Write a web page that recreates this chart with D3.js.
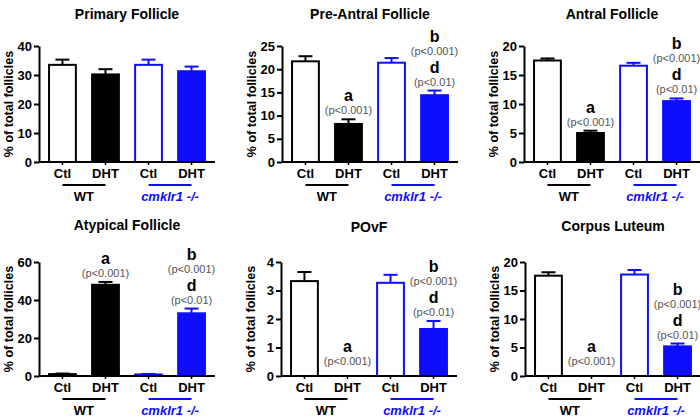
<!DOCTYPE html>
<html>
<head>
<meta charset="utf-8">
<script src="https://cdn.jsdelivr.net/npm/d3@7/dist/d3.min.js"></script>
<style>
  html, body { margin: 0; padding: 0; background: #fff; }
  svg { display: block; }
</style>
</head>
<body>
<svg id="chart" width="700" height="420"></svg>
<script>
// ---------- DATA ----------
const groups = ["WT Ctl", "WT DHT", "KO Ctl", "KO DHT"];
const groupLabels = ["Ctl", "DHT", "Ctl", "DHT"];
const genotypeLabels = ["WT", "cmklr1 -/-"];
const titles = ["Primary Follicle", "Pre-Antral Follicle", "Antral Follicle",
                "Atypical Follicle", "POvF", "Corpus Luteum"];
const yMax = [40, 25, 20, 60, 4, 20];
const yTicks = [
  [0, 10, 20, 30, 40],
  [0, 5, 10, 15, 20, 25],
  [0, 5, 10, 15, 20],
  [0, 20, 40, 60],
  [0, 1, 2, 3, 4],
  [0, 5, 10, 15, 20]
];
// means per panel (WT Ctl, WT DHT, KO Ctl, KO DHT)
const primaryMean   = [33.5, 30.2, 33.5, 31.3];
const primarySem    = [1.8, 1.8, 1.8, 1.6];
const preAntralMean = [21.7, 8.2, 21.4, 14.4];
const preAntralSem  = [1.1, 1.0, 1.0, 1.0];
const antralMean    = [17.5, 5.0, 16.6, 10.5];
const antralSem     = [0.35, 0.4, 0.5, 0.45];
const atypicalMean  = [1.0, 48.0, 0.8, 33.0];
const atypicalSem   = [0.3, 1.5, 0.3, 2.5];
const povfMean      = [3.33, 0, 3.27, 1.65];
const povfSem       = [0.32, 0, 0.28, 0.28];
const clMean        = [17.6, 0, 17.8, 5.2];
const clSem         = [0.6, 0, 0.8, 0.5];
const means = [primaryMean, preAntralMean, antralMean, atypicalMean, povfMean, clMean];
const sems  = [primarySem, preAntralSem, antralSem, atypicalSem, povfSem, clSem];
// significance annotations: [barIndex, stacked list of [letter, p-text] from top to bottom]
const annotations = [
  [],
  [[1, [["a", "(p<0.001)"]]], [3, [["b", "(p<0.001)"], ["d", "(p<0.01)"]]]],
  [[1, [["a", "(p<0.001)"]]], [3, [["b", "(p<0.001)"], ["d", "(p<0.01)"]]]],
  [[1, [["a", "(p<0.001)"]]], [3, [["b", "(p<0.001)"], ["d", "(p<0.01)"]]]],
  [[1, [["a", "(p<0.001)"]]], [3, [["b", "(p<0.001)"], ["d", "(p<0.01)"]]]],
  [[1, [["a", "(p<0.001)"]]], [3, [["b", "(p<0.001)"], ["d", "(p<0.01)"]]]]
];

// ---------- LAYOUT ----------
const BLACK = "#000";
const BLUE = "#0d0dff";
const barColors = [BLACK, BLACK, BLUE, BLUE];
const barFill = ["#fff", BLACK, "#fff", BLUE];
const panelX = [39, 282, 524, 39, 281, 525];
const rowTop = [46, 46, 46, 262, 262, 262];
const rowBottom = [162, 162, 162, 376, 376, 376];
const titleY = [19, 19, 19, 230, 232, 231];
const plotW = 176;
const FONT = "'Liberation Sans', Arial, Helvetica, sans-serif";

const svg = d3.select("#chart");

titles.forEach((title, i) => {
  const g = svg.append("g").attr("transform", `translate(${panelX[i]},0)`);
  const x = d3.scaleBand().domain(groups).range([0, plotW])
    .paddingInner(0.33).paddingOuter(0.21);
  const y = d3.scaleLinear().domain([0, yMax[i]]).range([rowBottom[i], rowTop[i]]);

  // title
  g.append("text").attr("x", plotW / 2).attr("y", titleY[i])
    .attr("text-anchor", "middle").attr("font-family", FONT)
    .attr("font-weight", "bold").attr("font-size", 14).text(title);

  // y axis
  const yAxis = g.append("g").call(d3.axisLeft(y).tickValues(yTicks[i])
    .tickFormat(d3.format("d")).tickSize(5).tickPadding(2).tickSizeOuter(0));
  yAxis.select(".domain").attr("stroke-width", 2);
  yAxis.selectAll(".tick line").attr("stroke-width", 2);
  yAxis.selectAll(".tick text").attr("font-family", FONT).attr("font-weight", "bold")
    .attr("font-size", 13).attr("fill", "#000");

  // y label
  g.append("text")
    .attr("transform", `translate(-30,${(rowTop[i] + rowBottom[i]) / 2}) rotate(-90)`)
    .attr("text-anchor", "middle").attr("dy", "0.35em").attr("font-family", FONT)
    .attr("font-weight", "bold").attr("font-size", 12.5).text("% of total follicles");

  // bars
  const data = groups.map((k, j) => ({ k, j, m: means[i][j], s: sems[i][j] }));
  g.selectAll("rect.bar").data(data.filter(d => d.m > 0)).join("rect")
    .attr("class", "bar")
    .attr("x", d => x(d.k) + 1)
    .attr("width", x.bandwidth() - 2)
    .attr("y", d => y(d.m))
    .attr("height", d => y(0) - y(d.m))
    .attr("fill", d => barFill[d.j])
    .attr("stroke", d => barColors[d.j])
    .attr("stroke-width", 2);

  // error bars (upper only)
  const eb = data.filter(d => d.s > 0);
  g.selectAll("line.err").data(eb).join("line")
    .attr("x1", d => x(d.k) + x.bandwidth() / 2).attr("x2", d => x(d.k) + x.bandwidth() / 2)
    .attr("y1", d => y(d.m)).attr("y2", d => y(d.m + d.s))
    .attr("stroke", d => barColors[d.j]).attr("stroke-width", 2);
  g.selectAll("line.cap").data(eb).join("line")
    .attr("x1", d => x(d.k) + x.bandwidth() / 2 - 7).attr("x2", d => x(d.k) + x.bandwidth() / 2 + 7)
    .attr("y1", d => y(d.m + d.s)).attr("y2", d => y(d.m + d.s))
    .attr("stroke", d => barColors[d.j]).attr("stroke-width", 2);

  // x axis line + small ticks
  g.append("line").attr("x1", 0).attr("x2", plotW).attr("y1", y(0)).attr("y2", y(0))
    .attr("stroke", "#000").attr("stroke-width", 2);
  g.selectAll("line.xt").data(groups).join("line")
    .attr("x1", d => x(d) + x.bandwidth() / 2).attr("x2", d => x(d) + x.bandwidth() / 2)
    .attr("y1", y(0)).attr("y2", y(0) + 3).attr("stroke", "#000").attr("stroke-width", 1.5);

  // x labels
  g.selectAll("text.xl").data(groups).join("text")
    .attr("x", d => x(d) + x.bandwidth() / 2).attr("y", y(0) + 16)
    .attr("text-anchor", "middle").attr("font-family", FONT).attr("font-weight", "bold")
    .attr("font-size", 13).text((d, j) => groupLabels[j]);

  // genotype underlines and labels
  [0, 1].forEach(gi => {
    const a = groups[gi * 2], b = groups[gi * 2 + 1];
    const cx1 = x(a) + x.bandwidth() / 2, cx2 = x(b) + x.bandwidth() / 2;
    const col = gi === 0 ? BLACK : BLUE;
    g.append("line").attr("x1", cx1).attr("x2", cx2)
      .attr("y1", y(0) + 23).attr("y2", y(0) + 23)
      .attr("stroke", col).attr("stroke-width", 2);
    g.append("text").attr("x", (cx1 + cx2) / 2).attr("y", y(0) + 39)
      .attr("text-anchor", "middle").attr("font-family", FONT).attr("font-weight", "bold")
      .attr("font-style", gi === 0 ? "normal" : "italic")
      .attr("font-size", 13).attr("fill", col).text(genotypeLabels[gi]);
  });

  // annotations
  annotations[i].forEach(([bi, stack]) => {
    const m = means[i][bi], s = sems[i][bi];
    const cx = x(groups[bi]) + x.bandwidth() / 2;
    let pBase = Math.min(y(m + s) - 5, y(0) - 11);
    for (let k = stack.length - 1; k >= 0; k--) {
      const [letter, ptxt] = stack[k];
      g.append("text").attr("x", cx).attr("y", pBase)
        .attr("text-anchor", "middle").attr("font-family", FONT)
        .attr("font-size", 11).attr("fill", "#555").text(ptxt);
      const lBase = pBase - 13;
      g.append("text").attr("x", cx).attr("y", lBase)
        .attr("text-anchor", "middle").attr("font-family", FONT).attr("font-weight", "bold")
        .attr("font-size", 16).attr("fill", "#000").text(letter);
      pBase = lBase - 18;
    }
  });
});
</script>
</body>
</html>
